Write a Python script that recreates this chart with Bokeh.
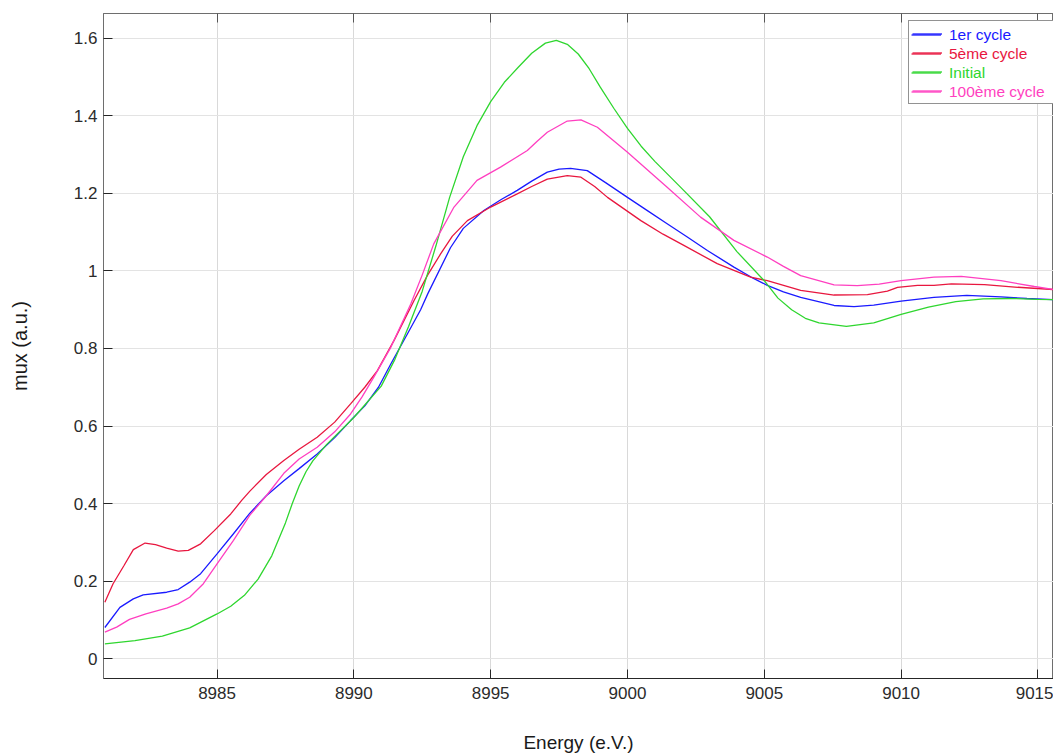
from bokeh.plotting import figure
from bokeh.models import (Legend, LegendItem, LinearAxis, SingleIntervalTicker,
                          CustomJSTickFormatter, Range1d)
from bokeh.core.properties import value
from bokeh.embed import file_html
from bokeh.resources import INLINE

# ---------------- data ----------------
series_names = ["1er cycle", "5ème cycle", "Initial", "100ème cycle"]
series_colors = ["#1a1aff", "#e8173f", "#2fd62f", "#ff3fc0"]

energy_cycle1 = [8980.9, 8981.45, 8981.94, 8982.3, 8983.16, 8983.58, 8984.0, 8984.4, 8985.0,
                 8985.6, 8986.2, 8986.8, 8987.44, 8988.0, 8988.66, 8989.3, 8989.88, 8990.4,
                 8990.9, 8991.35, 8991.96, 8992.44, 8992.7, 8993.53, 8994.0, 8994.75, 8995.4,
                 8995.97, 8996.5, 8997.07, 8997.5, 8997.92, 8998.53, 8999.2, 9000.0, 9000.7,
                 9001.45, 9002.2, 9002.92, 9003.89, 9004.5, 9005.11, 9005.7, 9006.33, 9007.55,
                 9008.28, 9009.0, 9010.0, 9011.2, 9012.4, 9013.65, 9014.6, 9015.6]
mux_cycle1 = [0.080, 0.132, 0.154, 0.164, 0.171, 0.178, 0.197, 0.219, 0.270,
              0.322, 0.375, 0.420, 0.459, 0.490, 0.528, 0.570, 0.614, 0.652,
              0.700, 0.760, 0.838, 0.900, 0.941, 1.060, 1.110, 1.156, 1.185,
              1.208, 1.232, 1.255, 1.263, 1.265, 1.259, 1.228, 1.190, 1.157,
              1.122, 1.087, 1.053, 1.010, 0.985, 0.963, 0.946, 0.932, 0.911,
              0.908, 0.912, 0.922, 0.932, 0.937, 0.933, 0.929, 0.926]

energy_cycle5 = [8980.9, 8981.2, 8981.6, 8981.94, 8982.37, 8982.75, 8983.16, 8983.58, 8983.95,
                 8984.4, 8984.9, 8985.5, 8985.9, 8986.2, 8986.8, 8987.44, 8988.0, 8988.66,
                 8989.3, 8989.88, 8990.4, 8990.86, 8991.47, 8992.2, 8992.7, 8993.17, 8993.6,
                 8994.15, 8995.0, 8995.97, 8996.5, 8997.07, 8997.8, 8998.3, 8998.8, 8999.27,
                 9000.49, 9001.3, 9002.06, 9003.28, 9004.5, 9005.11, 9006.33, 9007.55,
                 9008.77, 9009.5, 9009.87, 9010.6, 9011.2, 9011.84, 9013.05, 9014.27, 9015.6]
mux_cycle5 = [0.145, 0.193, 0.240, 0.281, 0.298, 0.294, 0.285, 0.277, 0.279,
              0.296, 0.330, 0.373, 0.408, 0.432, 0.475, 0.511, 0.540, 0.571,
              0.610, 0.657, 0.700, 0.743, 0.821, 0.924, 0.990, 1.044, 1.090,
              1.130, 1.165, 1.199, 1.218, 1.237, 1.246, 1.242, 1.218, 1.190,
              1.130, 1.095, 1.066, 1.019, 0.984, 0.975, 0.950, 0.938,
              0.939, 0.948, 0.958, 0.963, 0.963, 0.967, 0.965, 0.958, 0.952]

energy_initial = [8980.9, 8982.0, 8983.0, 8984.0, 8985.0, 8985.5, 8986.0, 8986.5, 8987.0,
                  8987.5, 8987.75, 8988.0, 8988.25, 8988.5, 8989.0, 8990.0, 8991.0, 8991.5,
                  8992.0, 8992.5, 8993.0, 8993.5, 8994.0, 8994.5, 8995.0, 8995.5, 8996.0,
                  8996.5, 8997.0, 8997.4, 8997.8, 8998.2, 8998.6, 8999.0, 8999.5, 9000.0,
                  9000.5, 9001.0, 9002.0, 9003.0, 9004.0, 9005.0, 9005.5, 9006.0, 9006.5,
                  9007.0, 9008.0, 9009.0, 9010.0, 9011.0, 9012.0, 9013.0, 9014.0, 9015.0,
                  9015.6]
mux_initial = [0.038, 0.046, 0.058, 0.079, 0.115, 0.135, 0.163, 0.205, 0.265,
               0.350, 0.400, 0.445, 0.482, 0.510, 0.552, 0.622, 0.703, 0.772,
               0.857, 0.948, 1.065, 1.190, 1.295, 1.375, 1.437, 1.487, 1.525,
               1.562, 1.588, 1.595, 1.585, 1.560, 1.522, 1.475, 1.420, 1.368,
               1.322, 1.283, 1.212, 1.140, 1.050, 0.975, 0.930, 0.900, 0.878,
               0.866, 0.857, 0.866, 0.888, 0.907, 0.921, 0.928, 0.929, 0.927,
               0.926]

energy_cycle100 = [8980.9, 8981.33, 8981.8, 8982.4, 8983.16, 8983.58, 8984.0, 8984.5, 8985.0,
                   8985.6, 8986.2, 8986.8, 8987.44, 8988.0, 8988.66, 8989.3, 8989.88, 8990.3,
                   8990.73, 8991.35, 8992.08, 8992.5, 8992.92, 8993.66, 8994.5, 8995.36,
                   8996.34, 8996.7, 8997.07, 8997.8, 8998.3, 8998.9, 8999.99, 9001.45,
                   9002.67, 9003.89, 9005.11, 9005.7, 9006.33, 9007.55, 9008.4, 9009.2,
                   9010.0, 9011.2, 9012.2, 9013.65, 9014.87, 9015.6]
mux_cycle100 = [0.068, 0.081, 0.101, 0.115, 0.130, 0.141, 0.158, 0.193, 0.244,
                0.305, 0.370, 0.420, 0.478, 0.515, 0.545, 0.585, 0.631, 0.675,
                0.726, 0.803, 0.915, 0.990, 1.070, 1.165, 1.234, 1.268,
                1.311, 1.335, 1.358, 1.387, 1.390, 1.371, 1.307, 1.216,
                1.139, 1.079, 1.036, 1.012, 0.988, 0.964, 0.962, 0.966,
                0.975, 0.984, 0.986, 0.975, 0.960, 0.952]

x_ticks_interval = 5
y_ticks_interval = 0.2
x_label = "Energy (e.V.)"
y_label = "mux (a.u.)"

# ---------------- figure ----------------
FONT = "Liberation Sans"
p = figure(width=1053, height=756, output_backend="svg", toolbar_location=None,
           x_range=Range1d(8980.85, 9015.57), y_range=Range1d(-0.0516, 1.6645),
           min_border_left=103, min_border_right=0, min_border_top=13, min_border_bottom=78,
           background_fill_color="white", border_fill_color="white")

p.outline_line_color = "#6e6e6e"
p.outline_line_width = 1

xs_all = [energy_cycle1, energy_cycle5, energy_initial, energy_cycle100]
ys_all = [mux_cycle1, mux_cycle5, mux_initial, mux_cycle100]
renderers = []
for xs, ys, c in zip(xs_all, ys_all, series_colors):
    renderers.append(p.line(xs, ys, line_color=c, line_width=1.3))

# axes
p.xaxis.ticker = SingleIntervalTicker(interval=x_ticks_interval)
p.yaxis.ticker = SingleIntervalTicker(interval=y_ticks_interval)
p.yaxis.formatter = CustomJSTickFormatter(code="return String(Math.round(tick*10)/10)")
for ax in (p.xaxis[0], p.yaxis[0]):
    ax.major_tick_in = 9
    ax.major_tick_out = 0
    ax.minor_tick_in = 0
    ax.minor_tick_out = 0
    ax.major_label_text_font = FONT
    ax.major_label_text_font_size = "17px"
    ax.major_label_text_color = "#2b2b2b"
    ax.major_tick_line_color = "#262626"
    ax.axis_label_text_font = FONT
    ax.axis_label_text_font_style = "normal"
    ax.axis_label_text_color = "#1a1a1a"
p.xaxis.axis_line_color = "#262626"
p.yaxis.axis_line_color = "#6e6e6e"
p.xaxis.major_label_standoff = 8
p.yaxis.major_label_standoff = 6
p.xaxis.axis_label = x_label
p.yaxis.axis_label = y_label
p.xaxis.axis_label_text_font_size = "19px"
p.yaxis.axis_label_text_font_size = "20px"
p.xaxis.axis_label_standoff = 30
p.yaxis.axis_label_standoff = 40

top_axis = LinearAxis(ticker=SingleIntervalTicker(interval=x_ticks_interval),
                      major_tick_in=9, major_tick_out=0, minor_tick_in=0, minor_tick_out=0,
                      major_label_text_font_size="1px", major_label_text_color=None,
                      major_label_standoff=0,
                      axis_line_color="#6e6e6e", major_tick_line_color="#555555")
p.add_layout(top_axis, "above")

p.xgrid.grid_line_color = "#d9d9d9"
p.ygrid.grid_line_color = "#e3e3e3"
p.xgrid.ticker = SingleIntervalTicker(interval=x_ticks_interval)
p.ygrid.ticker = SingleIntervalTicker(interval=y_ticks_interval)

# legend: framed box + one coloured legend per entry
LX, LBOTTOM_Y = 805, 574
ROW = 19
common = dict(glyph_width=30, glyph_height=ROW, label_height=ROW, spacing=0, padding=3,
              margin=0, label_standoff=8, label_text_font=FONT, label_text_font_size="15.5px")
box = Legend(items=[LegendItem(label=value(" "), renderers=[r]) for r in renderers],
             location=(LX, LBOTTOM_Y), label_width=112, border_line_color="#262626",
             border_line_width=1, background_fill_color="white", background_fill_alpha=1,
             label_text_color=None, **common)
p.add_layout(box, "center")
n = len(series_names)
for i, (name, r, c) in enumerate(zip(series_names, renderers, series_colors)):
    lg = Legend(items=[LegendItem(label=name, renderers=[r])],
                location=(LX, LBOTTOM_Y + (n - 1 - i) * ROW), border_line_alpha=0,
                background_fill_alpha=0, label_text_color=c, **common)
    p.add_layout(lg, "center")

open("out.html", "w").write(file_html(p, INLINE))
